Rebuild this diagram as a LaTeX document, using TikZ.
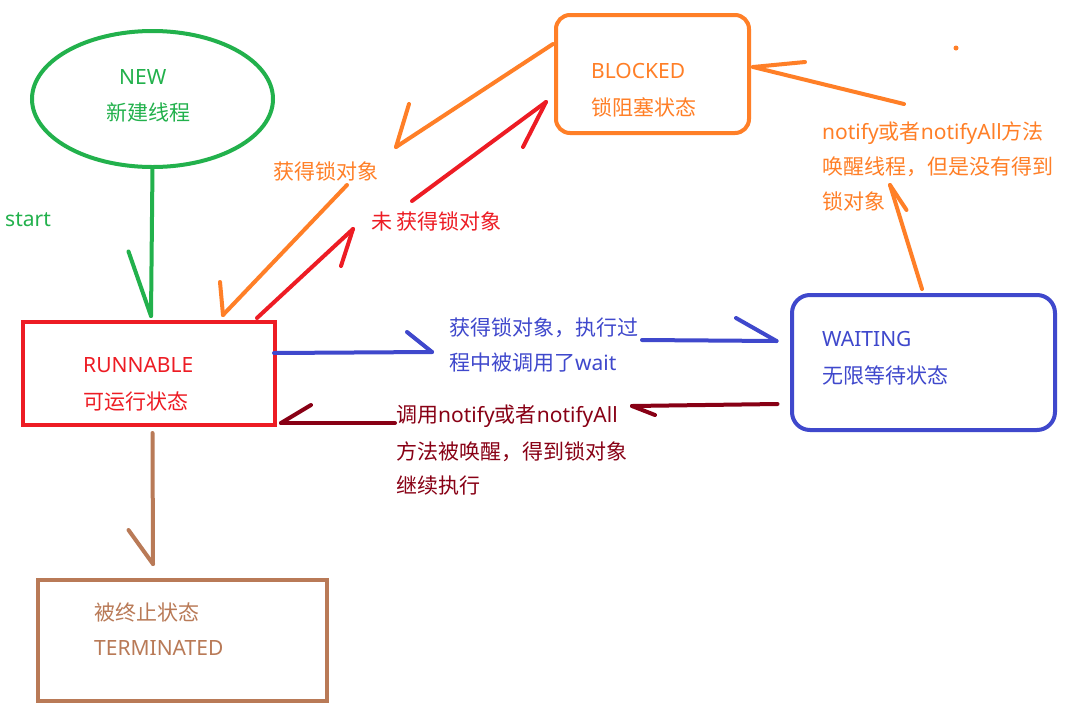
\documentclass[tikz,border=0pt]{standalone}
\usepackage{fontspec}
\newfontfamily\cjk{Noto Sans CJK SC}
\newfontfamily\lat{Noto Sans}
\usetikzlibrary{shapes.geometric}
\definecolor{cgreen}{HTML}{22B14C}
\definecolor{cred}{HTML}{ED1C24}
\definecolor{corange}{HTML}{FF7F27}
\definecolor{cblue}{HTML}{3F48CC}
\definecolor{cdred}{HTML}{880015}
\definecolor{cbrown}{HTML}{B97A57}
\tikzset{
  shp/.style={line width=4pt, inner sep=0pt, outer sep=0pt},
  conn/.style={line width=4pt, line cap=round, line join=round},
  lbl/.style={font=\cjk\fontsize{21}{25}\selectfont, inner sep=0pt, anchor=west, text height=18pt, text depth=3pt},
}
\begin{document}
\begin{tikzpicture}[x=1pt,y=-1pt]
\useasboundingbox (0,0) rectangle (1085,713);
\fill[white] (0,0) rectangle (1085,713);

% state shapes
\node[shp, ellipse, draw=cgreen, minimum width=241pt, minimum height=136pt] (new) at (152.5,99) {};
\node[shp, rectangle, draw=cred, minimum width=252pt, minimum height=103pt] (run) at (149,373.5) {};
\node[shp, rectangle, draw=cbrown, minimum width=289pt, minimum height=121pt] (term) at (182.5,640.5) {};
\node[shp, rectangle, draw=corange, rounded corners=14pt, minimum width=193pt, minimum height=118pt] (blk) at (652.5,74) {};
\node[shp, rectangle, draw=cblue, rounded corners=18pt, minimum width=263pt, minimum height=135pt] (wait) at (923.5,362.5) {};

% state texts
\node[lbl, text=cgreen] (newA) at (119,76.5) {\lat NEW};
\node[lbl, text=cgreen] (newB) at (106,113) {新建线程};
\node[lbl, text=cred] (runA) at (83,365) {\lat RUNNABLE};
\node[lbl, text=cred] (runB) at (83,402) {可运行状态};
\node[lbl, text=cbrown] (termA) at (94,613) {被终止状态};
\node[lbl, text=cbrown] (termB) at (94,648) {\lat TERMINATED};
\node[lbl, text=corange] (blkA) at (591,71) {\lat BLOCKED};
\node[lbl, text=corange] (blkB) at (591,108) {锁阻塞状态};
\node[lbl, text=cblue] (waitA) at (822,339) {\lat WAITING};
\node[lbl, text=cblue] (waitB) at (822,376) {无限等待状态};

% transition labels
\node[lbl, text=cgreen] (startL) at (5,219) {\lat start};
\node[lbl, text=corange] (l1) at (273,172) {获得锁对象};
\node[lbl, text=cred] (l2) at (371,222) {未 获得锁对象};
\node[lbl, text=cblue] (l3a) at (449,328) {获得锁对象，执行过};
\node[lbl, text=cblue] (l3b) at (449,363) {程中被调用了{\lat wait}};
\node[lbl, text=cdred] (l4a) at (396,415) {调用{\lat notify}或者{\lat notifyAll}};
\node[lbl, text=cdred] (l4b) at (396,452) {方法被唤醒，得到锁对象};
\node[lbl, text=cdred] (l4c) at (396,486) {继续执行};
\node[lbl, text=corange] (l5a) at (822,132) {{\lat notify}或者{\lat notifyAll}方法};
\node[lbl, text=corange] (l5b) at (822,167) {唤醒线程，但是没有得到};
\node[lbl, text=corange] (l5c) at (822,202) {锁对象};

% connector points
\coordinate (g1) at (151,316);   \coordinate (gb) at (128.5,251.5);
\coordinate (b0) at (152.5,433); \coordinate (b1) at (153,564);  \coordinate (bb) at (128.5,530);
\coordinate (o0) at (553,44);    \coordinate (o1) at (396,147);  \coordinate (ob1) at (409,104);
\coordinate (o2) at (347,185);   \coordinate (o3) at (223,315);  \coordinate (ob3) at (220,282);
\coordinate (r0) at (257,318);   \coordinate (r1) at (353,229);  \coordinate (rb1) at (341,266);
\coordinate (r2) at (412,201);   \coordinate (r3) at (546,102);  \coordinate (rb3) at (523,147);
\coordinate (u0) at (274,353);   \coordinate (u1) at (432,352);  \coordinate (ub1) at (407,332);
\coordinate (u2) at (642,340);   \coordinate (u3) at (776.5,341);\coordinate (ub3) at (736,318);
\coordinate (d0) at (777.5,404); \coordinate (d1) at (632,406);  \coordinate (db1) at (655,415);
\coordinate (d2) at (395,423);   \coordinate (d3) at (281,423);  \coordinate (db3) at (311,405);
\coordinate (w0) at (922,289);   \coordinate (w1) at (890,185);  \coordinate (wb1) at (906.5,210);
\coordinate (w2) at (904,104);   \coordinate (w3) at (753,67);   \coordinate (wb3) at (805,62);

% NEW -> RUNNABLE
\draw[conn, cgreen] (new.south) -- (g1);
\draw[conn, cgreen] (gb) -- (g1);
% RUNNABLE -> TERMINATED
\draw[conn, cbrown] (b0) -- (b1);
\draw[conn, cbrown] (bb) -- (b1);
% BLOCKED -> RUNNABLE
\draw[conn, corange] (o0) -- (o1);
\draw[conn, corange] (ob1) -- (o1);
\draw[conn, corange] (o2) -- (o3);
\draw[conn, corange] (ob3) -- (o3);
% RUNNABLE -> BLOCKED
\draw[conn, cred] (r0) -- (r1);
\draw[conn, cred] (rb1) -- (r1);
\draw[conn, cred] (r2) -- (r3);
\draw[conn, cred] (rb3) -- (r3);
% RUNNABLE -> WAITING
\draw[conn, cblue] (u0) -- (u1);
\draw[conn, cblue] (ub1) -- (u1);
\draw[conn, cblue] (u2) -- (u3);
\draw[conn, cblue] (ub3) -- (u3);
% WAITING -> RUNNABLE
\draw[conn, cdred] (d0) -- (d1);
\draw[conn, cdred] (db1) -- (d1);
\draw[conn, cdred] (d2) -- (d3);
\draw[conn, cdred] (db3) -- (d3);
% WAITING -> BLOCKED
\draw[conn, corange] (w0) -- (w1);
\draw[conn, corange] (wb1) -- (w1);
\draw[conn, corange] (w2) -- (w3);
\draw[conn, corange] (wb3) -- (w3);

% stray dot
\node[circle, fill=corange, inner sep=0pt, minimum size=5pt] (dot) at (956,48) {};
\end{tikzpicture}
\end{document}
